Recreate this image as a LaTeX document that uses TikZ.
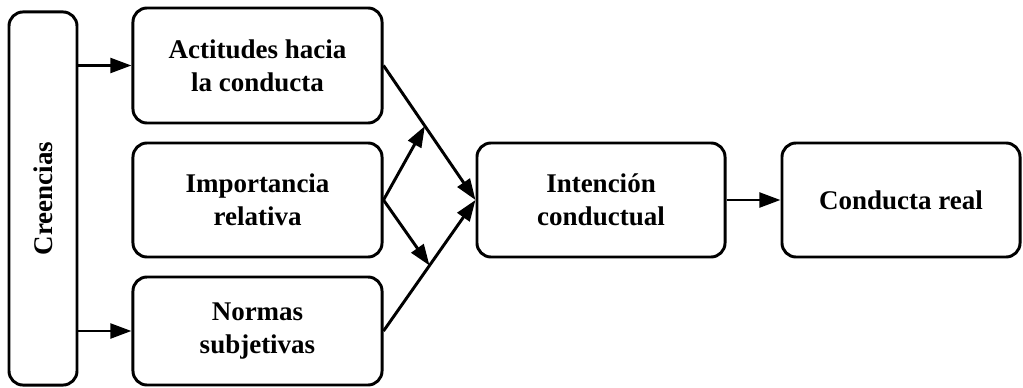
\documentclass[tikz,border=0pt]{standalone}
\usepackage{fontspec}
\setmainfont{Liberation Serif}
\usetikzlibrary{arrows.meta}

\tikzset{
  caja/.style={draw, line width=2.1pt, rounded corners=10pt, align=center,
    inner sep=0pt, font=\fontsize{19.2}{23.5}\selectfont\bfseries},
  flecha/.style={line width=2.1pt, -{Triangle[length=15pt,width=10.5pt]}}
}

\begin{document}
\begin{tikzpicture}[x=0.025cm,y=-0.025cm]
   \useasboundingbox (0,0) rectangle (1023,387);
   % columna de la izquierda
   \node [caja, minimum width=1.7cm, minimum height=9.325cm] (creencias) at (43,198.5) {\rotatebox{90}{Creencias}};
   \node [caja, minimum width=6.225cm, minimum height=2.875cm] (actitudes) at (257.5,65.5) {Actitudes hacia\\la conducta};
   \node [caja, minimum width=6.225cm, minimum height=2.85cm] (importancia) at (257.5,200) {Importancia\\relativa};
   \node [caja, minimum width=6.225cm, minimum height=2.7cm] (normas) at (257.5,331) {Normas\\subjetivas};
   % derecha
   \node [caja, minimum width=6.2cm, minimum height=2.85cm] (intencion) at (601,200) {Intenci\'on\\conductual};
   \node [caja, minimum width=5.95cm, minimum height=2.85cm] (conducta) at (901,200) {Conducta real};

   \draw [flecha] (creencias.east |- actitudes.west) -- (actitudes.west);
   \draw [flecha] (creencias.east |- normas.west) -- (normas.west);
   \draw [flecha] (actitudes.east) -- coordinate[pos=0.45] (arriba) (intencion.west);
   \draw [flecha] (normas.east) -- coordinate[pos=0.5] (abajo) (intencion.west);
   \draw [flecha] (importancia.east) -- (arriba);
   \draw [flecha] (importancia.east) -- (abajo);
   \draw [flecha] (intencion.east) -- (conducta.west);
\end{tikzpicture}
\end{document}
